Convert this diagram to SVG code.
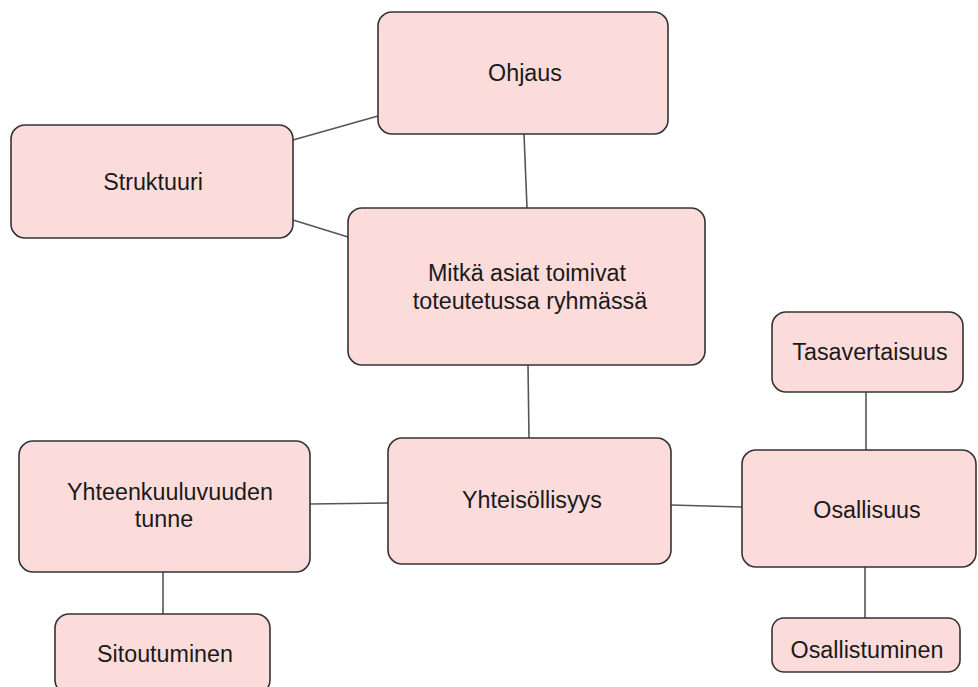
<svg xmlns="http://www.w3.org/2000/svg" width="978" height="687" viewBox="0 0 978 687">
<style>
.n{fill:#fcdcdb;stroke:#333;stroke-width:1.6}
.t{font-family:"Liberation Sans",Arial,sans-serif;font-size:23.3px;fill:#1a1a1a;text-anchor:middle}
.c line{stroke:#555;stroke-width:1.6}
</style>
<rect width="978" height="687" fill="#fff"/>
<g class="c" id="connectors">
<line x1="293" y1="140" x2="378" y2="116"/>
<line x1="293" y1="220" x2="348" y2="237"/>
<line x1="524" y1="134" x2="527" y2="208"/>
<line x1="528" y1="365" x2="529" y2="438"/>
<line x1="310" y1="504" x2="388" y2="503"/>
<line x1="671" y1="505" x2="742" y2="507"/>
<line x1="866" y1="392" x2="866" y2="450"/>
<line x1="865" y1="567" x2="865" y2="618"/>
<line x1="163" y1="572" x2="163" y2="614"/>
</g>
<g id="ohjaus"><rect class="n" x="378" y="12" width="290" height="122" rx="14"/><text class="t" x="525" y="81">Ohjaus</text></g>
<g id="struktuuri"><rect class="n" x="11" y="125" width="282" height="113" rx="14"/><text class="t" x="153" y="190">Struktuuri</text></g>
<g id="mitka"><rect class="n" x="348" y="208" width="357" height="157" rx="14"/><text class="t" x="527" y="281">Mitkä asiat toimivat</text><text class="t" x="530" y="309">toteutetussa ryhmässä</text></g>
<g id="yhteisollisyys"><rect class="n" x="388" y="438" width="283" height="126" rx="14"/><text class="t" x="532" y="508">Yhteisöllisyys</text></g>
<g id="tasavertaisuus"><rect class="n" x="772" y="312" width="191" height="80" rx="14"/><text class="t" x="870" y="360">Tasavertaisuus</text></g>
<g id="osallisuus"><rect class="n" x="742" y="450" width="234" height="117" rx="14"/><text class="t" x="867" y="518">Osallisuus</text></g>
<g id="osallistuminen"><rect class="n" x="772" y="618" width="188" height="54" rx="12"/><text class="t" x="867" y="658">Osallistuminen</text></g>
<g id="yhteenkuuluvuus"><rect class="n" x="19" y="441" width="291" height="131" rx="14"/><text class="t" x="170" y="500">Yhteenkuuluvuuden</text><text class="t" x="164" y="527">tunne</text></g>
<g id="sitoutuminen"><rect class="n" x="55" y="614" width="215" height="80" rx="14"/><text class="t" x="165" y="662">Sitoutuminen</text></g>
</svg>
